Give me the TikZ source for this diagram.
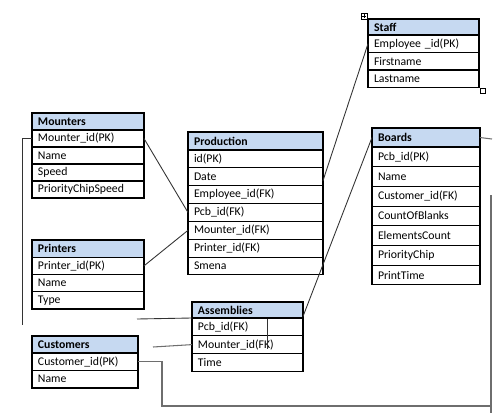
\documentclass[tikz,border=0pt]{standalone}
\usepackage{fontspec}
\setmainfont{Carlito}
\usepackage{xcolor}
\usepackage{tikz}
\usetikzlibrary{positioning, calc}
\definecolor{HdrBlue}{RGB}{198,217,241}
\definecolor{WireGray}{RGB}{110,110,110}
\newcommand{\tblfont}{\fontsize{6.7}{8}\selectfont}

\begin{document}
\begin{tikzpicture}[x=0.02cm, y=-0.02cm, node distance=0pt,
          hdr/.style 2 args={rectangle, draw, fill=HdrBlue, anchor=north west,
                      text width=#1, minimum height=#2, inner xsep=0.12cm,
                      inner ysep=0pt, outer sep=0pt, align=left,
                      font=\tblfont\bfseries, line width=0.6pt},
          fld/.style 2 args={rectangle, draw, text width=#1, minimum height=#2,
                      inner xsep=0.12cm, inner ysep=0pt, outer sep=0pt,
                      align=left, font=\tblfont, line width=0.6pt},
          conn/.style={black!80, line width=0.5pt},
          wire/.style={WireGray, line width=0.6pt}
        ]
        \useasboundingbox (0,0) rectangle (501,416);

        % Mounters
        \node[hdr={2.00cm}{0.34cm}] (mnt) at (32,113) {Mounters};
        \node[fld={2.00cm}{0.34cm}, below=of mnt]     (mnt-id)  {Mounter\_id(PK)};
        \node[fld={2.00cm}{0.34cm}, below=of mnt-id]  (mnt-nm)  {Name};
        \node[fld={2.00cm}{0.34cm}, below=of mnt-nm]  (mnt-spd) {Speed};
        \node[fld={2.00cm}{0.34cm}, below=of mnt-spd] (mnt-pcs) {PriorityChipSpeed};

        % Printers
        \node[hdr={2.00cm}{0.345cm}] (prn) at (32,240) {Printers};
        \node[fld={2.00cm}{0.345cm}, below=of prn]    (prn-id) {Printer\_id(PK)};
        \node[fld={2.00cm}{0.345cm}, below=of prn-id] (prn-nm) {Name};
        \node[fld={2.00cm}{0.345cm}, below=of prn-nm] (prn-tp) {Type};

        % Customers
        \node[hdr={1.88cm}{0.34cm}] (cst) at (32,336) {Customers};
        \node[fld={1.88cm}{0.35cm}, below=of cst]    (cst-id) {Customer\_id(PK)};
        \node[fld={1.88cm}{0.35cm}, below=of cst-id] (cst-nm) {Name};

        % Production
        \node[hdr={2.46cm}{0.36cm}] (prd) at (188,132) {Production};
        \node[fld={2.46cm}{0.357cm}, below=of prd]     (prd-id)   {id(PK)};
        \node[fld={2.46cm}{0.357cm}, below=of prd-id]  (prd-date) {Date};
        \node[fld={2.46cm}{0.357cm}, below=of prd-date] (prd-emp) {Employee\_id(FK)};
        \node[fld={2.46cm}{0.357cm}, below=of prd-emp] (prd-pcb)  {Pcb\_id(FK)};
        \node[fld={2.46cm}{0.357cm}, below=of prd-pcb] (prd-mnt)  {Mounter\_id(FK)};
        \node[fld={2.46cm}{0.357cm}, below=of prd-mnt] (prd-prn)  {Printer\_id(FK)};
        \node[fld={2.46cm}{0.357cm}, below=of prd-prn] (prd-sm)   {Smena};

        % Assemblies
        \node[hdr={1.98cm}{0.32cm}] (asm) at (192,302) {Assemblies};
        \node[fld={1.98cm}{0.355cm}, below=of asm]     (asm-pcb) {Pcb\_id(FK)};
        \node[fld={1.98cm}{0.355cm}, below=of asm-pcb] (asm-mnt) {Mounter\_id(FK)};
        \node[fld={1.98cm}{0.355cm}, below=of asm-mnt] (asm-tm)  {Time};

        % Staff
        \node[hdr={1.98cm}{0.32cm}] (stf) at (368,19) {Staff};
        \node[fld={1.98cm}{0.35cm}, below=of stf]    (stf-id) {Employee \_id(PK)};
        \node[fld={1.98cm}{0.35cm}, below=of stf-id] (stf-fn) {Firstname};
        \node[fld={1.98cm}{0.35cm}, below=of stf-fn] (stf-ln) {Lastname};
        \draw[line width=0.4pt] (361,13) rectangle (367,19);
        \draw[line width=0.4pt] (362,16) -- (366,16) (364,14) -- (364,18);
        \draw[line width=0.4pt] (480,88) rectangle (485,93);

        % Boards
        \node[hdr={1.92cm}{0.38cm}] (brd) at (372,128) {Boards};
        \node[fld={1.92cm}{0.394cm}, below=of brd]     (brd-id)  {Pcb\_id(PK)};
        \node[fld={1.92cm}{0.394cm}, below=of brd-id]  (brd-nm)  {Name};
        \node[fld={1.92cm}{0.394cm}, below=of brd-nm]  (brd-cst) {Customer\_id(FK)};
        \node[fld={1.92cm}{0.394cm}, below=of brd-cst] (brd-cob) {CountOfBlanks};
        \node[fld={1.92cm}{0.394cm}, below=of brd-cob] (brd-ec)  {ElementsCount};
        \node[fld={1.92cm}{0.394cm}, below=of brd-ec]  (brd-pc)  {PriorityChip};
        \node[fld={1.92cm}{0.394cm}, below=of brd-pc]  (brd-pt)  {PrintTime};

        % Free ends
        \coordinate (mnt-end) at (22,325);
        \coordinate (asm-in1) at (137,319);
        \coordinate (asm-in2) at (153,347);
        \coordinate (asm-v1)  at (267,319);
        \coordinate (asm-v2)  at (267,349);
        \coordinate (brd-stub) at (492,139);
        \coordinate (cst-turn) at (162,406);
        \coordinate (brd-top) at (491,195);
        \coordinate (brd-bot) at (491,413);

        % Links
        \draw[conn] (mnt-id.east) -- (prd-pcb.west);
        \draw[conn] (prn-id.east) -- (prd-mnt.west);
        \draw[conn] (stf-id.west) -- ([yshift=-0.08cm]prd-date.east);
        \draw[conn] (brd.west) -- ([yshift=0.03cm]asm.south east);
        \draw[conn] (mnt-id.west) -| (mnt-end);
        \draw[conn] (asm-in1) -- (asm.south west);
        \draw[conn] (asm-v1) -- (asm-v2);
        \draw[wire] (asm-in2) -- (asm-mnt.west);
        \draw[wire] (brd.east) -- (brd-stub);
        \draw[wire] (cst-id.east) -| (cst-turn) -- (cst-turn -| brd-top);
        \draw[wire] (brd-top) -- (brd-bot);
      \end{tikzpicture}
\end{document}
